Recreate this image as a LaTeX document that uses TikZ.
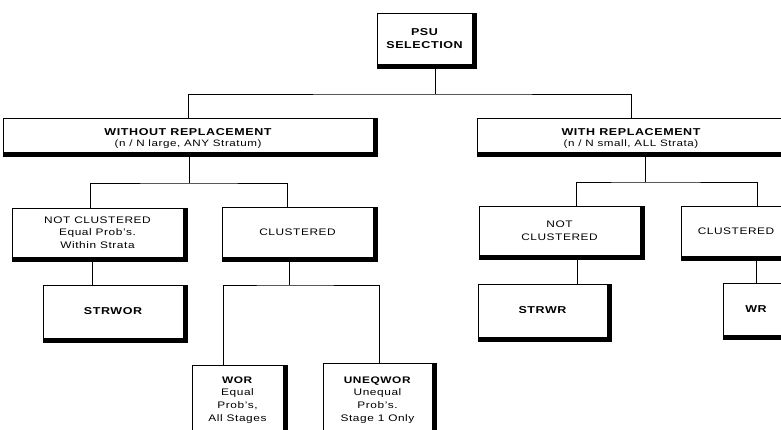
\documentclass[tikz,border=0pt]{standalone}
\usepackage{fontspec}
\setmainfont{Liberation Sans}[FakeStretch=1.25,LetterSpace=6]
\usetikzlibrary{backgrounds}
\tikzset{
  box/.style={
    draw,
    line width=0.7pt,
    fill=white,
    inner sep=0pt,
    align=center,
    font=\fontsize{9.5}{12.7}\selectfont,
  },
  titlebox/.style={
    box,
    font=\fontsize{10}{12.5}\selectfont\bfseries,
  },
  link/.style={
    line width=0.7pt,
  }
}
\newcommand{\subline}[1]{{\fontsize{9.3}{10}\selectfont\mdseries #1}}

\begin{document}
\begin{tikzpicture}[x=1pt,y=-1pt]

\path[use as bounding box] (0,0) rectangle (781,430);
\clip (0,0) rectangle (781,430);

\node[titlebox, minimum width=95, minimum height=51] (psu) at (424.5,38.5)
  {PSU\\SELECTION};

\node[titlebox, minimum width=370, minimum height=34] (wo) at (188,135)
  {\rule{0pt}{14pt}WITHOUT REPLACEMENT\\[-2pt]\subline{(n / N large, ANY Stratum)}};
\node[titlebox, minimum width=308, minimum height=34] (w) at (631,135)
  {\rule{0pt}{14pt}WITH REPLACEMENT\\[-2pt]\subline{(n / N small, ALL Strata)}};

\node[box, minimum width=171, minimum height=49] (nc1) at (97.5,232.5)
  {NOT CLUSTERED\\Equal Prob's.\\Within Strata};
\node[box, minimum width=151, minimum height=50] (cl1) at (297.5,232)
  {CLUSTERED};
\node[titlebox, minimum width=140, minimum height=53] (strwor) at (113,311.5)
  {STRWOR};
\node[box, minimum width=91, minimum height=70] (wor) at (237.5,400)
  {\textbf{WOR}\\Equal\\Prob's,\\All Stages};
\node[box, minimum width=109, minimum height=74] (uneq) at (377.5,400)
  {\textbf{UNEQWOR}\\Unequal\\Prob's.\\Stage 1 Only};

\node[box, minimum width=161, minimum height=49] (nc2) at (559.5,230.5)
  {NOT\\CLUSTERED};
\node[box, minimum width=110, minimum height=50] (cl2) at (736,231)
  {CLUSTERED};
\node[titlebox, minimum width=129, minimum height=53] (strwr) at (542.5,310.5)
  {STRWR};
\node[titlebox, minimum width=66, minimum height=52] (wr) at (756,309)
  {WR};

\begin{scope}[on background layer]
  \foreach \n in {psu,wo,w,nc1,cl1,strwor,wor,uneq,nc2,cl2,strwr,wr}
    \fill (\n.north west) rectangle ([shift={(5pt,-5pt)}]\n.south east);
\end{scope}

\coordinate (j0) at (435,94);
\coordinate (j1) at (189,183);
\coordinate (j2) at (289,285);
\coordinate (j3) at (645,182);

\draw[link] (psu.south -| j0) -- (j0);
\draw[link] (wo.north) |- (j0) -| (w.north);

\draw[link] (wo.south -| j1) -- (j1);
\draw[link] ([xshift=-7.5pt]nc1.north) |- (j1) -| ([xshift=-10.5pt]cl1.north);
\draw[link] ([xshift=-5.5pt]nc1.south) -- ([xshift=-5.5pt]nc1.south |- strwor.north);
\draw[link] (cl1.south -| j2) -- (j2);
\draw[link] ([xshift=-14.5pt]wor.north) |- (j2) -| ([xshift=1.5pt]uneq.north);

\draw[link] (w.south -| j3) -- (j3);
\draw[link] ([xshift=16.5pt]nc2.north) |- (j3) -| ([xshift=21pt]cl2.north);
\draw[link] ([xshift=17.5pt]nc2.south) -- ([xshift=17.5pt]nc2.south |- strwr.north);
\draw[link] (wr.north |- cl2.south) -- (wr.north);

\end{tikzpicture}
\end{document}
